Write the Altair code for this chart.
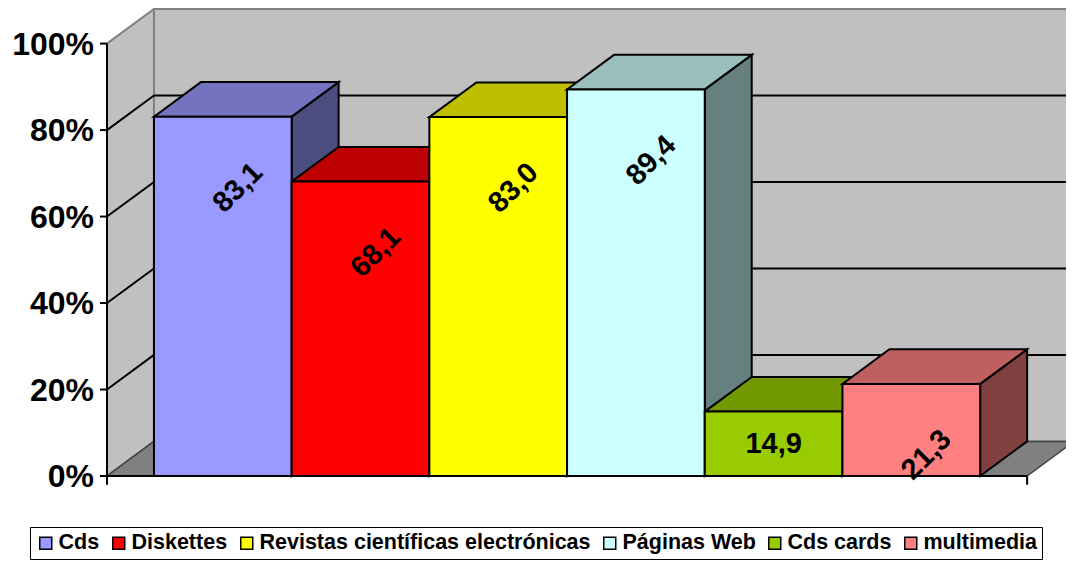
import altair as alt
import pandas as pd

# ---------------- data ----------------
categories = ["Cds", "Diskettes", "Revistas científicas electrónicas",
              "Páginas Web", "Cds cards", "multimedia"]
values = [83.1, 68.1, 83.0, 89.4, 14.9, 21.3]
value_labels = ["83,1", "68,1", "83,0", "89,4", "14,9", "21,3"]
front_colors = ["#9999FF", "#FF0000", "#FFFF00", "#CCFFFF", "#99CC00", "#FF8080"]
top_colors = ["#7373BF", "#BF0000", "#BFBF00", "#99BFBF", "#739900", "#BF6060"]
side_colors = ["#4D4D80", "#800000", "#808000", "#668080", "#4D6600", "#804040"]
y_ticks = [0, 20, 40, 60, 80, 100]
y_tick_labels = ["0%", "20%", "40%", "60%", "80%", "100%"]
grid_values = [20, 40, 60, 80]

# ---------------- layout ----------------
PLOT_W = 959
PLOT_H = 467
UNIT_PX = 137.7   # pixels per bar width

# ---------------- 3D geometry (in scale units) ----------------
BW = 1.0          # bar width (x units)
DX = 0.341        # depth shift along x (x units)
DY = 8.0          # depth shift along y (percent units)
N = len(categories)
FLOOR_W = 2 * DX + N * BW
XMAX = FLOOR_W + DX
YMAX = 100 + DY
XVIEW = PLOT_W / UNIT_PX
TICK = 7 / UNIT_PX

xs = alt.Scale(domain=[0, XVIEW], nice=False, zero=False)
ys = alt.Scale(domain=[0, YMAX], nice=False, zero=False)
FONT = "Liberation Sans"

# ---------------- tables ----------------
back_wall = pd.DataFrame([{"x": DX, "x2": XMAX, "y": DY, "y2": YMAX}])
left_wall = pd.DataFrame([{"x": 0, "lo": 0, "hi": 100},
                          {"x": DX, "lo": DY, "hi": YMAX}])
floor = pd.DataFrame([{"y": 0, "lo": 0, "hi": FLOOR_W},
                      {"y": DY, "lo": DX, "hi": XMAX}])
grid_rows = []
for g in grid_values:
    grid_rows.append({"x": DX, "x2": XMAX, "y": g + DY, "y2": g + DY})
    grid_rows.append({"x": 0, "x2": DX, "y": g, "y2": g + DY})
grid = pd.DataFrame(grid_rows)
axis_line = pd.DataFrame([{"x": 0, "y": 0, "y2": 100}])
axis_ticks = pd.DataFrame({"v": y_ticks, "label": y_tick_labels, "x": 0.0, "x2": -TICK})
floor_line = pd.DataFrame([{"x": 0, "x2": FLOOR_W, "y": 0}])
corner_ticks = pd.DataFrame([{"x": 0, "y": 0, "y2": -2}, {"x": FLOOR_W, "y": 0, "y2": -2}])

side_rows, top_rows, front_rows, label_rows = [], [], [], []
for i, (c, v) in enumerate(zip(categories, values)):
    x1 = DX + i * BW
    side_rows.append({"cat": c, "x": x1 + BW, "lo": 0, "hi": v, "col": side_colors[i]})
    side_rows.append({"cat": c, "x": x1 + BW + DX, "lo": DY, "hi": v + DY, "col": side_colors[i]})
    top_rows.append({"cat": c, "y": v, "lo": x1, "hi": x1 + BW, "col": top_colors[i]})
    top_rows.append({"cat": c, "y": v + DY, "lo": x1 + DX, "hi": x1 + BW + DX, "col": top_colors[i]})
    front_rows.append({"cat": c, "x": x1, "x2": x1 + BW, "y": 0, "y2": v})
    label_rows.append({"cat": c, "v": v, "label": value_labels[i],
                       "xc": x1 + BW / 2, "xr": x1 + BW / 2 + 0.11,
                       "yr": v - 16.4, "ym": v / 2})
sides = pd.DataFrame(side_rows)
tops = pd.DataFrame(top_rows)
fronts = pd.DataFrame(front_rows)
labels = pd.DataFrame(label_rows)


def X(f, **kw):
    return alt.X(f, scale=xs, axis=None, **kw)


def Y(f, **kw):
    return alt.Y(f, scale=ys, axis=None, **kw)


# ---------------- layers ----------------
back_layer = alt.Chart(back_wall).mark_rect(fill="#C0C0C0", stroke="#808080", strokeWidth=2).encode(
    x=X("x:Q"), x2="x2:Q", y=Y("y:Q"), y2="y2:Q")

left_layer = alt.Chart(left_wall).mark_area(fill="#C0C0C0", stroke="#808080", strokeWidth=2).encode(
    x=X("x:Q"), y=Y("lo:Q", stack=None), y2="hi:Q")

floor_layer = alt.Chart(floor).mark_area(orient="horizontal", fill="#808080",
                                         stroke="#404040", strokeWidth=1.5).encode(
    y=Y("y:Q"), x=X("lo:Q", stack=None), x2="hi:Q")

grid_layer = alt.Chart(grid).mark_rule(color="black", strokeWidth=2).encode(
    x=X("x:Q"), x2="x2:Q", y=Y("y:Q"), y2="y2:Q")

axis_layer = alt.Chart(axis_line).mark_rule(color="black", strokeWidth=2).encode(
    x=X("x:Q"), y=Y("y:Q"), y2="y2:Q")

tick_layer = alt.Chart(axis_ticks).mark_rule(color="black", strokeWidth=2).encode(
    x=X("x:Q"), x2="x2:Q", y=Y("v:Q"))

tick_label_layer = alt.Chart(axis_ticks).mark_text(
    font=FONT, fontWeight="bold", fontSize=32, align="right", baseline="middle",
    dx=-13, dy=1, color="black").encode(
    x=X("x:Q"), y=Y("v:Q"), text="label:N")

floor_line_layer = alt.Chart(floor_line).mark_rule(color="black", strokeWidth=2).encode(
    x=X("x:Q"), x2="x2:Q", y=Y("y:Q"))

corner_layer = alt.Chart(corner_ticks).mark_rule(color="black", strokeWidth=2).encode(
    x=X("x:Q"), y=Y("y:Q"), y2="y2:Q")

side_layer = alt.Chart(sides).mark_area(stroke="black", strokeWidth=2, strokeJoin="miter").encode(
    x=X("x:Q"), y=Y("lo:Q", stack=None), y2="hi:Q",
    fill=alt.Fill("col:N", scale=None), detail="cat:N")

top_layer = alt.Chart(tops).mark_area(orient="horizontal", stroke="black", strokeWidth=2,
                                      strokeJoin="miter").encode(
    y=Y("y:Q"), x=X("lo:Q", stack=None), x2="hi:Q",
    fill=alt.Fill("col:N", scale=None), detail="cat:N")

front_layer = alt.Chart(fronts).mark_rect(stroke="black", strokeWidth=2).encode(
    x=X("x:Q"), x2="x2:Q", y=Y("y:Q"), y2="y2:Q",
    color=alt.Color("cat:N", scale=alt.Scale(domain=categories, range=front_colors),
                    legend=alt.Legend(
                        orient="none", legendX=-77, legendY=518, direction="horizontal",
                        title=None, strokeColor="black", padding=5,
                        symbolType="square", symbolSize=144, symbolStrokeColor="black",
                        symbolStrokeWidth=1.5, symbolOpacity=1,
                        labelFont=FONT, labelFontWeight="bold", labelFontSize=21.5,
                        labelColor="black", labelLimit=0, labelOffset=2,
                        columnPadding=8)))

rot_labels = alt.Chart(labels).transform_filter("datum.v >= 20").mark_text(
    font=FONT, fontWeight="bold", fontSize=29, angle=315, align="center",
    baseline="middle", color="black").encode(
    x=X("xr:Q"), y=Y("yr:Q"), text="label:N")

flat_labels = alt.Chart(labels).transform_filter("datum.v < 20").mark_text(
    font=FONT, fontWeight="bold", fontSize=29, align="center",
    baseline="middle", color="black").encode(
    x=X("xc:Q"), y=Y("ym:Q"), text="label:N")

chart = alt.layer(
    back_layer, left_layer, floor_layer, grid_layer, axis_layer, tick_layer,
    tick_label_layer, floor_line_layer, corner_layer, side_layer, top_layer,
    front_layer, rot_labels, flat_labels
).properties(
    width=PLOT_W, height=PLOT_H,
    padding={"left": 99, "top": 1, "right": 0, "bottom": 84},
    autosize=alt.AutoSizeParams(type="none"),
    background="white"
).configure_view(stroke=None)

chart.save("out.html", embed_options={"renderer": "svg", "actions": False})
